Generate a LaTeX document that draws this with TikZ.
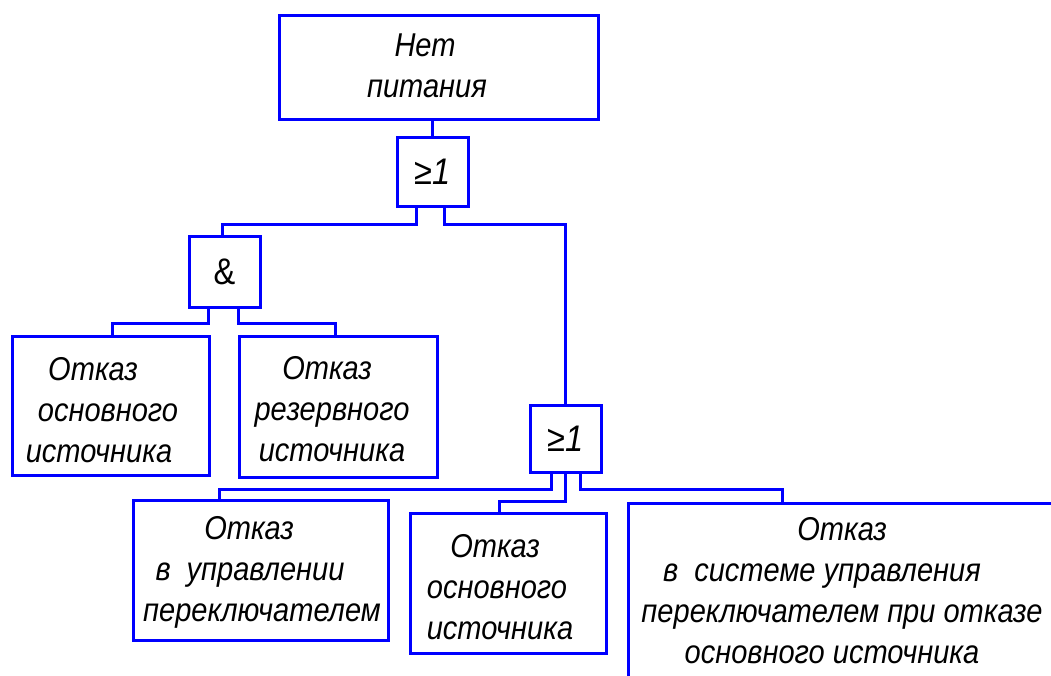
\documentclass[tikz,border=0pt]{standalone}
\usepackage{fontspec}
\setmainfont{Liberation Sans}[FakeStretch=0.88]
% invisible spacer of a given width
\newcommand\gapw[1]{\rule{#1}{0pt}}
\begin{document}
\begin{tikzpicture}[x=1pt,y=-1pt,
  wire/.style={draw=blue, line width=3pt, line cap=rect},
  box/.style={draw=blue, line width=3pt, inner sep=0pt, fill=none},
  gate/.style={box, minimum width=71pt, minimum height=69pt, font=\fontsize{37}{40}\selectfont\itshape},
  txt/.style={align=center, inner sep=0pt, font=\fontsize{33}{41}\selectfont\itshape}
]
\useasboundingbox (0,0) rectangle (1051,675);
\clip (0,0) rectangle (1051,675);

% events
\node[box, minimum width=319pt, minimum height=104pt] (top) at (438.5,67) {};
\node[txt] at (427,66) {Нет\gapw{4pt}\\питания};

\node[box, minimum width=197pt, minimum height=139pt] (srcA) at (110.5,405.5) {};
\node[txt] at (108,410) {Отказ\gapw{30pt}\\основного\\источника\gapw{18pt}};

\node[box, minimum width=198pt, minimum height=141pt] (srcB) at (338,406.5) {};
\node[txt] at (332,409) {Отказ\gapw{10pt}\\резервного\\источника};

\node[box, minimum width=255pt, minimum height=140pt] (ctl) at (260.5,570) {};
\node[txt] at (262,572) {Отказ\gapw{26pt}\\в\gapw{16pt}управлении\gapw{24pt}\\переключателем};

\node[box, minimum width=196pt, minimum height=140pt] (srcD) at (508,583) {};
\node[txt] at (500,587) {Отказ\gapw{10pt}\\основного\gapw{6pt}\\источника};

\node[box, minimum width=480pt, minimum height=240pt, anchor=north west] (sys) at (627,502) {};
\node[txt] at (842,591) {Отказ\\в\gapw{16pt}системе управления\gapw{40pt}\\переключателем при отказе\\основного источника\gapw{20pt}};

% logic gates
\node[gate] (or1) at (432.5,171.5) {≥1};
\node[gate, minimum height=71pt, font=\fontsize{37}{40}\selectfont] (and1) at (224.5,271.5) {\&};
\node[gate, minimum height=67pt] (or2) at (565.5,438.5) {≥1};

% connectors
\draw[wire] (or1.north) -- (or1.north |- top.south);
\draw[wire] ([xshift=-16pt]or1.south) -- ++(0,17) -| ([xshift=-2pt]and1.north);
\draw[wire] ([xshift=12pt]or1.south) -- ++(0,17) -| (or2.north);
\draw[wire] ([xshift=-16pt]and1.south) -- ++(0,15) -| ([xshift=2pt]srcA.north);
\draw[wire] ([xshift=14pt]and1.south) -- ++(0,15) -| ([xshift=-3pt]srcB.north);
\draw[wire] ([xshift=-14pt]or2.south) -- ++(0,16) -| ([xshift=-41pt]ctl.north);
\draw[wire] (or2.south) -- ++(0,28) -| ([xshift=-9pt]srcD.north);
\draw[wire] ([xshift=15pt]or2.south) -- ++(0,16) -| ([xshift=-86pt]sys.north);
\end{tikzpicture}
\end{document}
